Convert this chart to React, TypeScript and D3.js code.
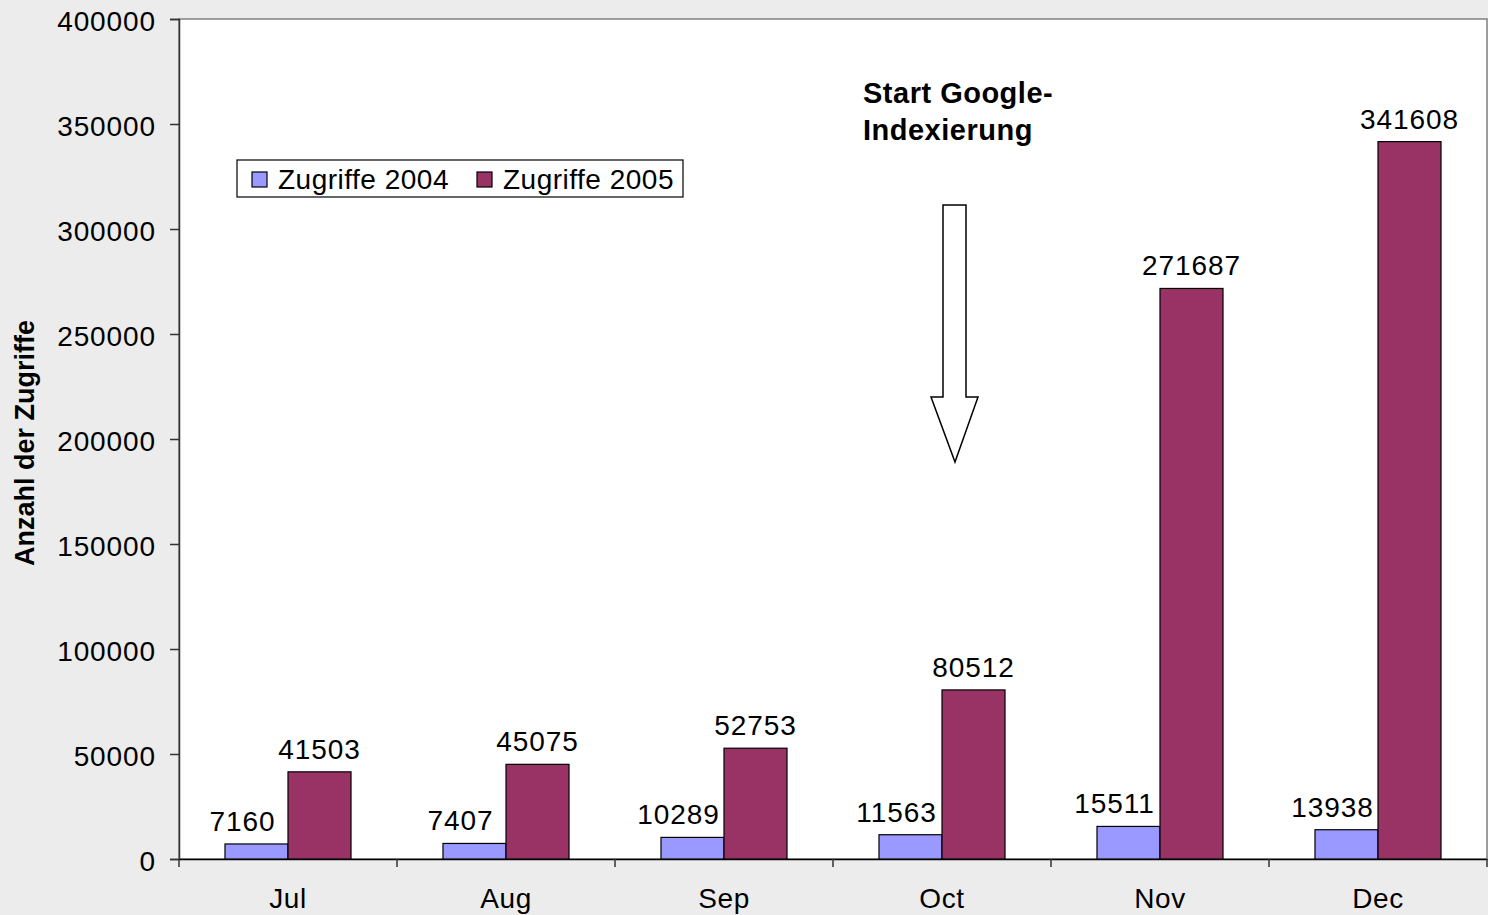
import React, { useEffect, useRef } from 'react'
import * as d3 from 'd3'

// data
const months = ['Jul', 'Aug', 'Sep', 'Oct', 'Nov', 'Dec']
const series = ['Zugriffe 2004', 'Zugriffe 2005']
const visits2004 = [7160, 7407, 10289, 11563, 15511, 13938]
const visits2005 = [41503, 45075, 52753, 80512, 271687, 341608]
const yTicks = [0, 50000, 100000, 150000, 200000, 250000, 300000, 350000, 400000]
const colors = ['#9999ff', '#993366']

export default function App() {
  const ref = useRef<SVGSVGElement>(null)

  useEffect(() => {
    const width = 1488
    const height = 915
    const left = 179
    const right = 1487
    const top = 19
    const bottom = 859

    const svg = d3.select(ref.current)
    svg.selectAll('*').remove()

    svg.append('rect').attr('width', width).attr('height', height).attr('fill', '#ececec')

    const x = d3.scaleBand().domain(months).range([left, right]).paddingInner(0).paddingOuter(0)
    const inner = d3
      .scaleBand()
      .domain(series)
      .range([0, x.bandwidth()])
      .paddingOuter(0.73)
      .paddingInner(0)
    const y = d3.scaleLinear().domain([0, 400000]).range([bottom, top])

    // plot area
    svg
      .append('rect')
      .attr('x', left)
      .attr('y', top)
      .attr('width', right - left)
      .attr('height', bottom - top)
      .attr('fill', '#fff')
      .attr('stroke', '#808080')
      .attr('stroke-width', 1.5)

    const font = 'Liberation Sans, Arial, sans-serif'

    // y axis
    const yAxis = svg
      .append('g')
      .attr('transform', `translate(${left}, 0)`)
      .call(d3.axisLeft(y).tickValues(yTicks).tickSize(9).tickPadding(14).tickFormat(d => `${d}`))
    yAxis.select('.domain').attr('stroke', '#333').attr('stroke-width', 1.5)
    yAxis.selectAll('.tick line').attr('stroke', '#333').attr('stroke-width', 1.5)
    yAxis
      .selectAll('.tick text')
      .attr('font-family', font)
      .attr('font-size', 28)
      .attr('letter-spacing', 0.9)
      .attr('dy', '0.42em')
      .attr('fill', '#000')

    // x axis
    const xAxis = svg
      .append('g')
      .attr('transform', `translate(0, ${bottom})`)
      .call(d3.axisBottom(x).tickSize(0).tickPadding(29))
    xAxis.select('.domain').attr('stroke', '#000').attr('stroke-width', 1.5)
    xAxis
      .selectAll('.tick text')
      .attr('font-family', font)
      .attr('font-size', 28)
      .attr('letter-spacing', 0.6)
      .attr('fill', '#000')
    svg
      .append('g')
      .selectAll('line')
      .data(d3.range(months.length + 1))
      .enter()
      .append('line')
      .attr('x1', i => (i < months.length ? (x(months[i]) as number) : right))
      .attr('x2', i => (i < months.length ? (x(months[i]) as number) : right))
      .attr('y1', bottom)
      .attr('y2', bottom + 8)
      .attr('stroke', '#333')
      .attr('stroke-width', 1.5)

    // bars
    const rows = months.map((m, i) => ({ month: m, values: [visits2004[i], visits2005[i]] }))
    const groups = svg
      .append('g')
      .selectAll('g')
      .data(rows)
      .enter()
      .append('g')
      .attr('transform', d => `translate(${x(d.month)}, 0)`)

    groups
      .selectAll('rect')
      .data(d => d.values.map((v, k) => ({ key: series[k], v, k })))
      .enter()
      .append('rect')
      .attr('x', d => inner(d.key) as number)
      .attr('y', d => y(d.v))
      .attr('width', inner.bandwidth())
      .attr('height', d => bottom - y(d.v))
      .attr('fill', d => colors[d.k])
      .attr('stroke', '#000')
      .attr('stroke-width', 1.2)

    groups
      .selectAll('text')
      .data(d => d.values.map((v, k) => ({ key: series[k], v, k })))
      .enter()
      .append('text')
      .attr('x', d => (inner(d.key) as number) + inner.bandwidth() / 2 + (d.k === 0 ? -14 : 0))
      .attr('y', d => y(d.v) - 13)
      .attr('text-anchor', 'middle')
      .attr('font-family', font)
      .attr('font-size', 28)
      .attr('letter-spacing', 0.9)
      .text(d => `${d.v}`)

    // axis title
    svg
      .append('text')
      .attr('transform', `translate(34, 443) rotate(-90)`)
      .attr('text-anchor', 'middle')
      .attr('font-family', font)
      .attr('font-weight', 'bold')
      .attr('font-size', 27)
      .text('Anzahl der Zugriffe')

    // legend
    const legend = svg.append('g').attr('transform', 'translate(237, 160)')
    legend
      .append('rect')
      .attr('width', 446)
      .attr('height', 37)
      .attr('fill', '#fff')
      .attr('stroke', '#000')
      .attr('stroke-width', 1.2)
    const items = legend
      .selectAll('g')
      .data(series)
      .enter()
      .append('g')
      .attr('transform', (d, i) => `translate(${15 + i * 225}, 0)`)
    items
      .append('rect')
      .attr('y', 12)
      .attr('width', 15)
      .attr('height', 15)
      .attr('fill', (d, i) => colors[i])
      .attr('stroke', '#000')
      .attr('stroke-width', 1.2)
    items
      .append('text')
      .attr('x', 26)
      .attr('y', 29)
      .attr('font-family', font)
      .attr('font-size', 28)
      .attr('letter-spacing', 0.5)
      .text(d => d)

    // annotation
    const note = svg
      .append('text')
      .attr('font-family', font)
      .attr('font-weight', 'bold')
      .attr('font-size', 29)
      .attr('letter-spacing', 0.5)
    note.append('tspan').attr('x', 863).attr('y', 103).text('Start Google-')
    note.append('tspan').attr('x', 863).attr('y', 140).text('Indexierung')

    svg
      .append('path')
      .attr('d', 'M943,205 L966,205 L966,397 L978,397 L955,462 L931,397 L943,397 Z')
      .attr('fill', '#fff')
      .attr('stroke', '#000')
      .attr('stroke-width', 1.5)
  }, [])

  return (
    <svg
      ref={ref}
      width={1488}
      height={915}
      style={{ position: 'absolute', left: 0, top: 0, display: 'block' }}
    />
  )
}
